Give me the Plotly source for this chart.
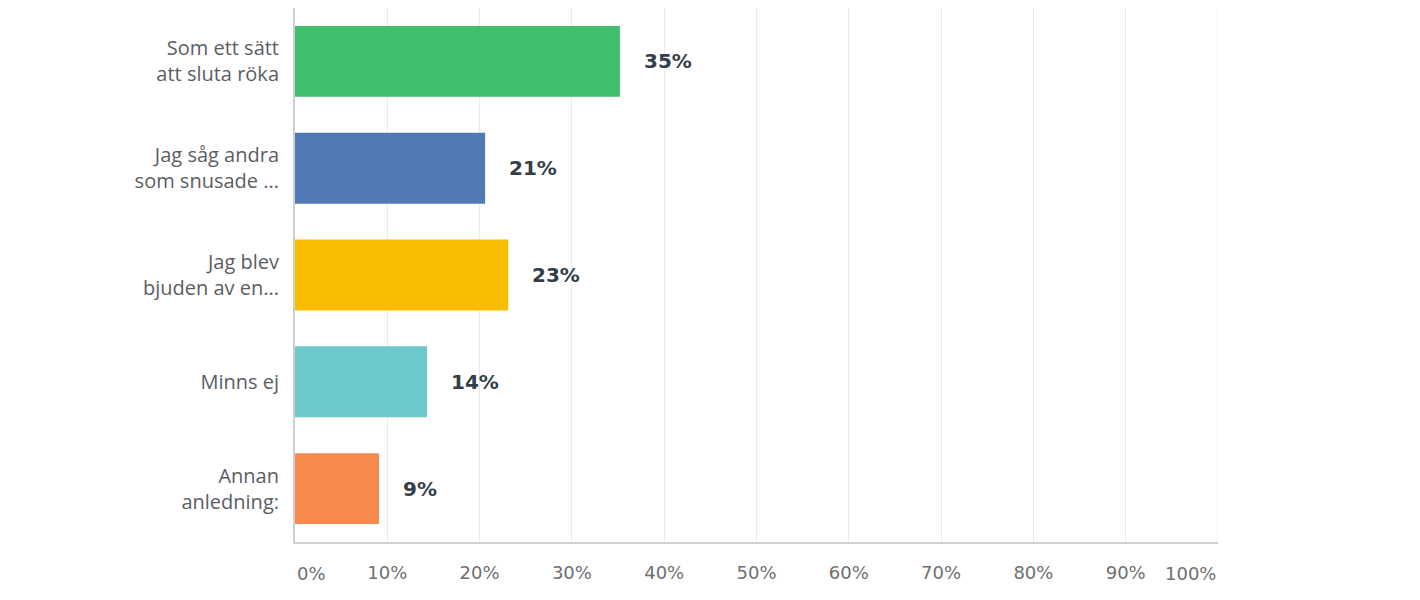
import plotly.graph_objects as go

categories = ["Som ett sätt<br>att sluta röka", "Jag såg andra<br>som snusade ...", "Jag blev<br>bjuden av en...",
              "Minns ej", "Annan<br>anledning:"]
values = [35.2, 20.6, 23.1, 14.3, 9.1]
value_labels = ["35%", "21%", "23%", "14%", "9%"]
colors = ["#3fbf6e", "#4f7ab6", "#f7be00", "#6cc8cb", "#f68a4d"]
tick_vals = [10, 20, 30, 40, 50, 60, 70, 80, 90]
tick_text = ["10%", "20%", "30%", "40%", "50%", "60%", "70%", "80%", "90%"]
edge_ticks = [(0, "0%", "left"), (100, "100%", "right")]

tick_font = dict(family="DejaVu Sans, sans-serif", size=18, color="#6d6f72")

fig = go.Figure()
fig.add_trace(go.Bar(
    x=values, y=categories, orientation="h",
    marker=dict(color=colors, line=dict(width=0)),
    width=0.664, hoverinfo="skip",
))

annotations = []
for v, lab, c in zip(values, value_labels, categories):
    annotations.append(dict(x=v, y=c, xref="x", yref="y", text=f"<b>{lab}</b>",
                            showarrow=False, xanchor="left", xshift=22,
                            font=dict(family="DejaVu Sans, sans-serif", size=20, color="#333e48")))
for xv, t, anc in edge_ticks:
    annotations.append(dict(x=xv, y=0, xref="x", yref="paper", text=t, showarrow=False,
                            xanchor=anc, yanchor="top", yshift=-19, font=tick_font))

fig.update_layout(
    width=1412, height=592,
    margin=dict(l=287, r=202, t=0, b=58, autoexpand=False),
    paper_bgcolor="white", plot_bgcolor="white",
    showlegend=False, bargap=0.336,
    annotations=annotations,
    xaxis=dict(range=[0, 100], tickvals=tick_vals, ticktext=tick_text,
               showgrid=True, gridcolor="#ebebeb", gridwidth=1,
               showline=True, linecolor="#cfcfcf", linewidth=2,
               zeroline=False, ticks="outside", ticklen=0, ticklabelstandoff=13,
               tickfont=tick_font, fixedrange=True),
    yaxis=dict(categoryorder="array", categoryarray=categories, autorange="reversed",
               showgrid=False, showline=True, linecolor="#cfcfcf", linewidth=2,
               ticks="outside", ticklen=0, ticklabelstandoff=10,
               tickfont=dict(family="Open Sans, sans-serif", size=20, color="#5a5e63"),
               fixedrange=True),
)

fig.add_shape(type="line", x0=100, x1=100, y0=0, y1=1, xref="x", yref="paper",
              line=dict(color="#ebebeb", width=1))

fig.write_html("out.html")
